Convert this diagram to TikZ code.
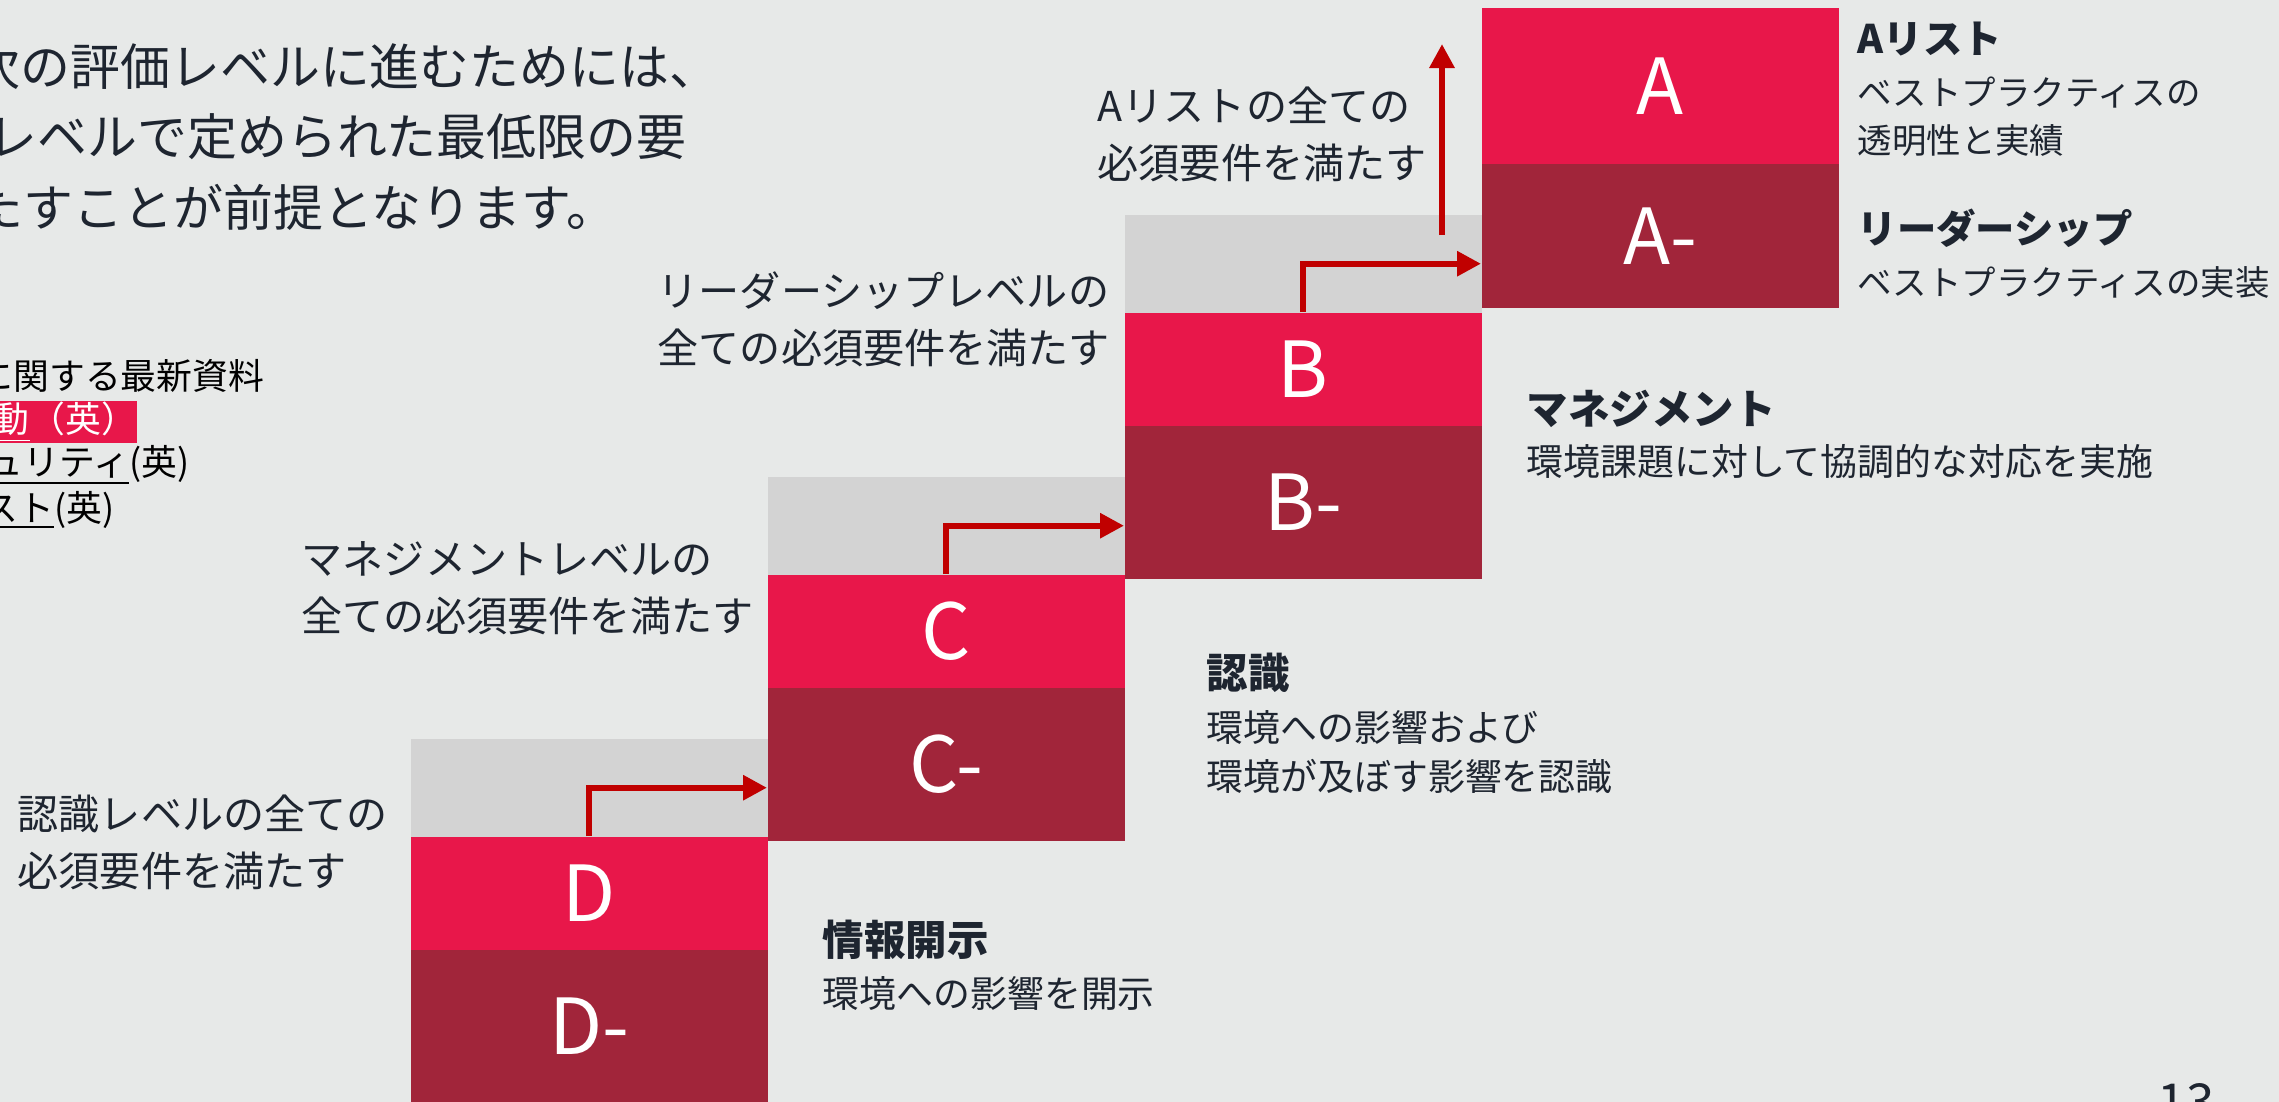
\documentclass[tikz,border=0pt]{standalone}
\usepackage{fontspec}
\setmainfont{Noto Sans CJK JP}
\usepackage{tikz}
\usetikzlibrary{arrows.meta}
\definecolor{pageGrey}{HTML}{E7E9E8}
\definecolor{stepGrey}{HTML}{D3D3D3}
\definecolor{levelRed}{HTML}{E8174A}
\definecolor{levelDark}{HTML}{A1253A}
\definecolor{arrowRed}{HTML}{C00000}
\definecolor{inkDark}{HTML}{1E2530}
\newcommand{\leadFont}{\fontsize{14.2pt}{17pt}\selectfont}
\newcommand{\listFont}{\fontsize{10.2pt}{12pt}\selectfont}
\newcommand{\noteFont}{\fontsize{11.7pt}{16.2pt}\selectfont}
\newcommand{\letterFont}{\fontsize{22pt}{26pt}\selectfont}
\newcommand{\titleFont}{\fontsize{11.8pt}{14pt}\selectfont\bfseries}
\newcommand{\bodyFont}{\fontsize{10.5pt}{14.2pt}\selectfont}

\begin{document}
\begin{tikzpicture}[
    stepgrey/.style={shape=rectangle, fill=stepGrey, minimum width=3.57cm, minimum height=0.98cm, inner sep=0, anchor=north west},
    leveltop/.style={shape=rectangle, fill=levelRed, text=white, minimum width=3.57cm, minimum height=1.13cm, inner sep=0, anchor=north west, font=\letterFont},
    levelbottom/.style={shape=rectangle, fill=levelDark, text=white, minimum width=3.57cm, minimum height=1.53cm, inner sep=0, anchor=north west, font=\letterFont},
    steplabel/.style={anchor=west, align=left, inner sep=0, text=inkDark, font=\noteFont},
    leveltitle/.style={anchor=west, inner sep=0, text=inkDark, font=\titleFont},
    leveltext/.style={anchor=west, align=left, inner sep=0, text=inkDark, font=\bodyFont},
    arr/.style={draw=arrowRed, line width=1.7pt, -{Triangle[length=0.24cm,width=0.24cm]}}
]
    \useasboundingbox (0,0) rectangle (22.79,-11.02);
    \clip (0,0) rectangle (22.79,-11.02);
    \fill[pageGrey] (0,0) rectangle (22.79,-11.02);

    \node[anchor=west, inner sep=0, text=inkDark, font=\leadFont] (lead1) at (-0.30,-0.67) {次の評価レベルに進むためには、};
    \node[anchor=west, inner sep=0, text=inkDark, font=\leadFont] (lead2) at (-0.13,-1.37) {レベルで定められた最低限の要};
    \node[anchor=west, inner sep=0, text=inkDark, font=\leadFont] (lead3) at (-0.27,-2.07) {たすことが前提となります。};

    \node[anchor=east, inner sep=0, text=black, font=\listFont] (news) at (2.65,-3.76) {に関する最新資料};
    \node[shape=rectangle, anchor=east, inner sep=0, minimum height=0.42cm, fill=levelRed, text=white, font=\listFont] (newsA) at (1.38,-4.22) {\underline{動}（英）};
    \node[anchor=east, inner sep=0, text=black, font=\listFont] (newsB) at (1.90,-4.65) {\underline{ュリティ}(英)};
    \node[anchor=east, inner sep=0, text=black, font=\listFont] (newsC) at (1.15,-5.10) {\underline{スト}(英)};

    \node[stepgrey] (Dgrey) at (4.10,-7.38) {};
    \node[leveltop] (D) at (4.10,-8.36) {D};
    \node[levelbottom] (Dminus) at (4.10,-9.49) {D-};

    \node[stepgrey] (Cgrey) at (7.67,-4.76) {};
    \node[leveltop] (C) at (7.67,-5.74) {C};
    \node[levelbottom] (Cminus) at (7.67,-6.87) {C-};

    \node[stepgrey] (Bgrey) at (11.24,-2.14) {};
    \node[leveltop] (B) at (11.24,-3.12) {B};
    \node[levelbottom] (Bminus) at (11.24,-4.25) {B-};

    \node[leveltop, minimum height=1.56cm] (A) at (14.81,-0.07) {A};
    \node[levelbottom, minimum height=1.44cm] (Aminus) at (14.81,-1.63) {A-};

    \draw[arr] (D.north) |- (Dgrey.center -| Cminus.west);
    \draw[arr] (C.north) |- (Cgrey.center -| Bminus.west);
    \draw[arr] (B.north) |- (Bgrey.center -| Aminus.west);
    \coordinate (upFoot) at (14.42,-2.35);
    \coordinate (upTip) at (14.42,-0.44);
    \draw[arr] (upFoot) -- (upTip);

    \node[steplabel] (Dnote) at (0.17,-8.42) {認識レベルの全ての\\必須要件を満たす};
    \node[steplabel] (Cnote) at (3.01,-5.88) {マネジメントレベルの\\全ての必須要件を満たす};
    \node[steplabel] (Bnote) at (6.57,-3.19) {リーダーシップレベルの\\全ての必須要件を満たす};
    \node[steplabel] (Anote) at (10.97,-1.34) {Aリストの全ての\\必須要件を満たす};

    \node[leveltitle] (Dtitle) at (8.22,-9.40) {情報開示};
    \node[leveltext] (Dtext) at (8.22,-9.93) {環境への影響を開示};
    \node[leveltitle] (Ctitle) at (12.06,-6.73) {認識};
    \node[leveltext] (Ctext) at (12.06,-7.52) {環境への影響および\\環境が及ぼす影響を認識};
    \node[leveltitle] (Btitle) at (15.26,-4.09) {マネジメント};
    \node[leveltext] (Btext) at (15.26,-4.62) {環境課題に対して協調的な対応を実施};
    \node[leveltitle, font=\fontsize{11.2pt}{13pt}\selectfont\bfseries] (Atitle) at (18.57,-0.39) {Aリスト};
    \node[leveltext, font=\fontsize{9.8pt}{13.7pt}\selectfont] (Atext) at (18.57,-1.17) {ベストプラクティスの\\透明性と実績};
    \node[leveltitle, font=\fontsize{11.2pt}{13pt}\selectfont\bfseries] (Amtitle) at (18.57,-2.28) {リーダーシップ};
    \node[leveltext, font=\fontsize{9.8pt}{13.7pt}\selectfont] (Amtext) at (18.57,-2.82) {ベストプラクティスの実装};

    \node[anchor=base, inner sep=0, text=inkDark, font=\fontsize{14.5pt}{17pt}\selectfont] (pageNo) at (21.86,-11.20) {13};
\end{tikzpicture}
\end{document}
